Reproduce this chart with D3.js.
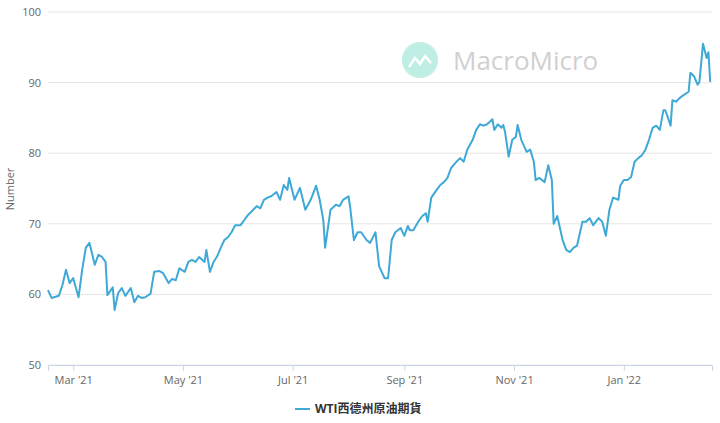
<!DOCTYPE html>
<html>
<head>
<meta charset="utf-8">
<script src="https://d3js.org/d3.v7.min.js"></script>
<style>
  body { margin: 0; background: #fff; font-family: "Open Sans", "Noto Sans CJK TC", sans-serif; }
</style>
</head>
<body>
<div id="chart"></div>
<script>
// WTI crude futures
var dates = ["2021-02-15","2021-02-17","2021-02-21","2021-02-23","2021-02-25","2021-02-27","2021-03-01","2021-03-04","2021-03-06","2021-03-08",
  "2021-03-10","2021-03-13","2021-03-15","2021-03-17","2021-03-19","2021-03-20","2021-03-23","2021-03-24","2021-03-26","2021-03-28",
  "2021-03-30","2021-04-02","2021-04-04","2021-04-06","2021-04-08","2021-04-10","2021-04-13","2021-04-15","2021-04-18","2021-04-20",
  "2021-04-23","2021-04-25","2021-04-27","2021-04-29","2021-05-02","2021-05-04","2021-05-06","2021-05-08","2021-05-10","2021-05-13",
  "2021-05-14","2021-05-16","2021-05-18","2021-05-20","2021-05-22","2021-05-24","2021-05-26","2021-05-28","2021-05-30","2021-06-02",
  "2021-06-04","2021-06-06","2021-06-08","2021-06-11","2021-06-13","2021-06-15","2021-06-17","2021-06-19","2021-06-22","2021-06-24",
  "2021-06-26","2021-06-28","2021-06-29","2021-07-02","2021-07-05","2021-07-08","2021-07-11","2021-07-14","2021-07-16","2021-07-18",
  "2021-07-19","2021-07-22","2021-07-25","2021-07-27","2021-07-29","2021-08-01","2021-08-02","2021-08-04","2021-08-06","2021-08-08",
  "2021-08-11","2021-08-13","2021-08-16","2021-08-18","2021-08-21","2021-08-23","2021-08-25","2021-08-27","2021-08-30","2021-09-01",
  "2021-09-03","2021-09-04","2021-09-06","2021-09-09","2021-09-11","2021-09-13","2021-09-14","2021-09-16","2021-09-19","2021-09-21",
  "2021-09-23","2021-09-25","2021-09-27","2021-09-30","2021-10-02","2021-10-04","2021-10-06","2021-10-09","2021-10-11","2021-10-13",
  "2021-10-15","2021-10-17","2021-10-20","2021-10-21","2021-10-23","2021-10-25","2021-10-26","2021-10-27","2021-10-29","2021-10-31",
  "2021-11-02","2021-11-03","2021-11-05","2021-11-08","2021-11-10","2021-11-12","2021-11-13","2021-11-15","2021-11-18","2021-11-20",
  "2021-11-22","2021-11-23","2021-11-25","2021-11-28","2021-11-30","2021-12-02","2021-12-04","2021-12-06","2021-12-09","2021-12-11",
  "2021-12-13","2021-12-15","2021-12-18","2021-12-20","2021-12-22","2021-12-24","2021-12-26","2021-12-29","2021-12-30","2022-01-01",
  "2022-01-03","2022-01-05","2022-01-07","2022-01-09","2022-01-11","2022-01-13","2022-01-15","2022-01-17","2022-01-19","2022-01-21",
  "2022-01-23","2022-01-24","2022-01-25","2022-01-27","2022-01-28","2022-01-30","2022-02-01","2022-02-03","2022-02-06","2022-02-07",
  "2022-02-09","2022-02-11","2022-02-12","2022-02-14","2022-02-16","2022-02-17","2022-02-18"];
var values = [60.6,59.5,59.8,61.3,63.5,61.6,62.3,59.6,63.5,66.6,
  67.3,64.2,65.6,65.3,64.6,59.9,61.0,57.8,60.2,60.9,
  59.8,60.9,58.9,59.8,59.5,59.6,60.1,63.2,63.3,63.0,
  61.6,62.2,62.0,63.7,63.2,64.6,64.9,64.6,65.3,64.6,
  66.3,63.2,64.6,65.4,66.6,67.7,68.1,68.8,69.8,69.8,
  70.5,71.2,71.7,72.5,72.2,73.4,73.7,73.9,74.5,73.4,
  75.5,74.8,76.5,73.4,75.1,72.0,73.4,75.4,73.4,70.5,
  66.6,72.0,72.7,72.5,73.4,73.9,72.2,67.7,68.8,68.8,
  67.7,67.3,68.8,64.0,62.3,62.3,67.7,68.8,69.4,68.3,
  69.7,69.1,69.1,70.4,71.1,71.5,70.3,73.7,74.8,75.5,
  75.9,76.5,77.9,78.8,79.3,78.8,80.5,81.9,83.3,84.1,
  83.9,84.1,84.8,83.3,84.1,83.6,84.0,83.0,79.5,81.9,
  82.3,84.0,81.9,80.2,80.5,78.8,76.2,76.5,75.9,78.3,
  76.2,70.0,71.1,67.7,66.3,66.0,66.6,66.9,70.3,70.3,
  70.8,69.8,70.8,70.3,68.3,72.0,73.7,73.4,75.4,76.2,
  76.2,76.6,78.8,79.3,79.7,80.5,81.9,83.6,83.9,83.3,
  86.1,86.1,85.4,83.9,87.5,87.3,87.8,88.2,88.7,91.4,
  90.9,89.7,90.1,95.5,93.5,94.3,90.1];
var yTicks = [50, 60, 70, 80, 90, 100];
var xTicks = ["2021-03-01","2021-05-01","2021-07-01","2021-09-01","2021-11-01","2022-01-01"];
var seriesName = "WTI西德州原油期貨";

var W = 720, H = 423;
var parse = d3.timeParse("%Y-%m-%d");
var data = dates.map(function(d, i) { return { date: parse(d), value: values[i] }; });

var svg = d3.select("#chart").append("svg").attr("width", W).attr("height", H);

var x = d3.scaleTime().domain([parse("2021-02-15"), parse("2022-02-19")]).range([48, 712]);
var y = d3.scaleLinear().domain([50, 100]).range([365, 12]);

// watermark
var wm = svg.append("g");
wm.append("circle").attr("cx", 420).attr("cy", 60).attr("r", 18).attr("fill", "#bfeee4");
wm.append("path").attr("d", "M409,67 L415,58 L420,64 L425,56 L431,63")
  .attr("fill", "none").attr("stroke", "#fff").attr("stroke-width", 2.5);
wm.append("text").attr("x", 453).attr("y", 70).attr("font-size", 26)
  .attr("fill", "#d0d0d0").text("MacroMicro");

// gridlines + y labels
svg.append("g").selectAll("line").data(yTicks).enter().append("line")
  .attr("x1", 48).attr("x2", 712)
  .attr("y1", function(d) { return y(d); }).attr("y2", function(d) { return y(d); })
  .attr("stroke", "#e6e6e6");
svg.append("g").selectAll("text").data(yTicks).enter().append("text")
  .attr("x", 41).attr("y", function(d) { return y(d) + 4; })
  .attr("text-anchor", "end").attr("font-size", 11).attr("fill", "#666")
  .text(function(d) { return d; });

svg.append("text").attr("transform", "translate(14,189) rotate(-90)")
  .attr("text-anchor", "middle").attr("font-size", 11).attr("fill", "#666").text("Number");

// x axis
var xa = svg.append("g").attr("transform", "translate(0,365)")
  .call(d3.axisBottom(x).tickValues(xTicks.map(parse)).tickSize(6)
    .tickFormat(function(d) { return d3.timeFormat("%b '%y")(d); }));
xa.select(".domain").attr("stroke", "#ccd6eb");
xa.selectAll(".tick line").attr("stroke", "#ccd6eb");
xa.selectAll("text").attr("font-size", 11).attr("fill", "#666").attr("dy", "0.9em")
  .attr("font-family", "Open Sans");

// line
svg.append("path").datum(data)
  .attr("fill", "none").attr("stroke", "#3ea9d6").attr("stroke-width", 2)
  .attr("stroke-linejoin", "round")
  .attr("d", d3.line().x(function(d) { return x(d.date); }).y(function(d) { return y(d.value); }));

// legend
var lg = svg.append("g");
lg.append("line").attr("x1", 295).attr("x2", 310).attr("y1", 409).attr("y2", 409)
  .attr("stroke", "#3ea9d6").attr("stroke-width", 2);
lg.append("text").attr("x", 315).attr("y", 413).attr("font-size", 12).attr("font-weight", "bold")
  .attr("fill", "#333").attr("font-family", "'Open Sans','Noto Sans CJK TC'").text(seriesName);
</script>
</body>
</html>
